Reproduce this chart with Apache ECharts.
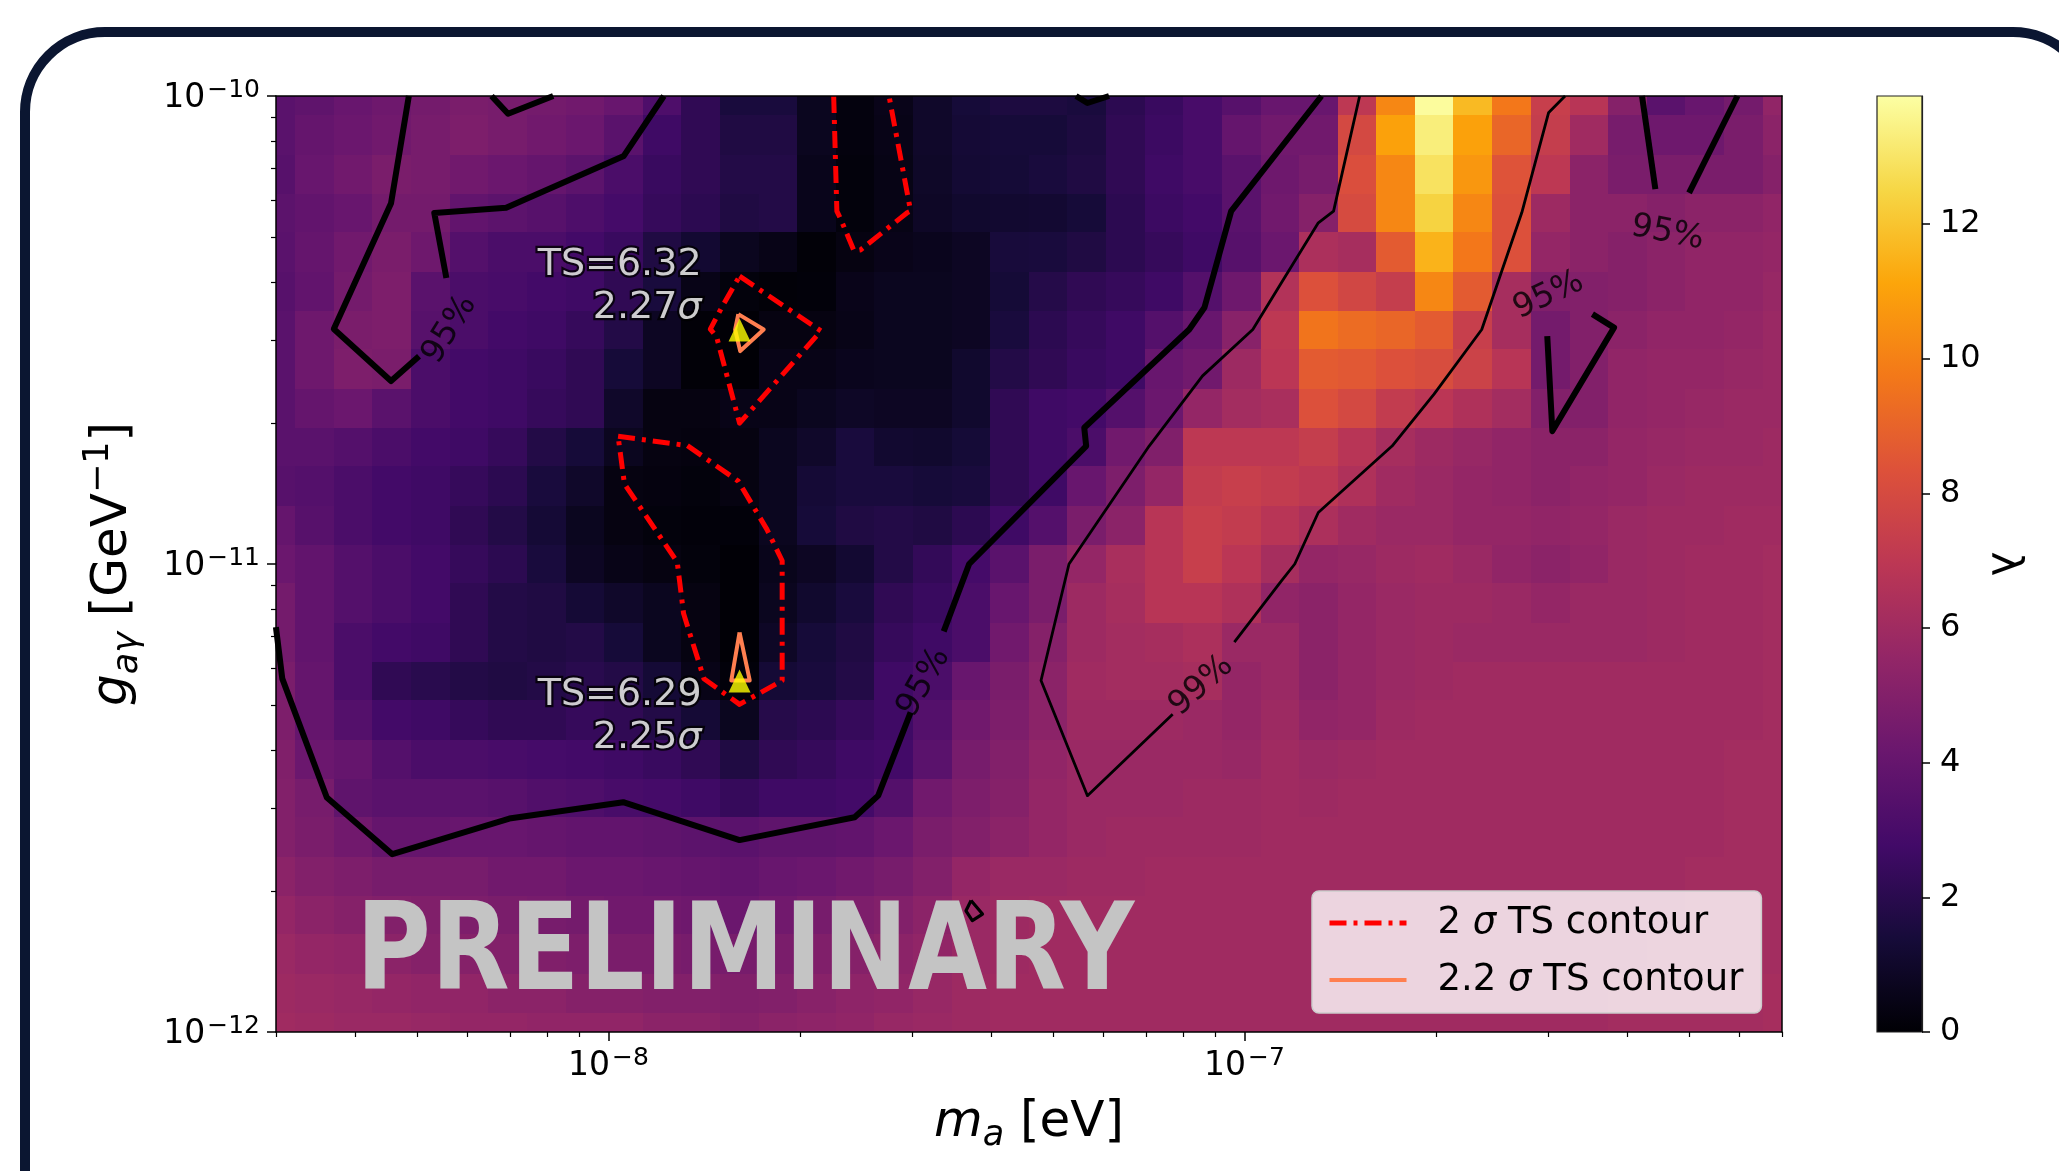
<!DOCTYPE html>
<html>
<head>
<meta charset="utf-8">
<script src="https://cdn.jsdelivr.net/npm/echarts@6.0.0/dist/echarts.min.js"></script>
<style>
  html, body { margin: 0; padding: 0; background: #fff; }
  #chart { width: 2059px; height: 1171px; }
</style>
</head>
<body>
<div id="chart"></div>
<script>
const FONT = "DejaVu Sans";

// scan grid, log10(m_a / eV) and log10(g / GeV^-1)
const logMass = [-8.523, -8.462, -8.402, -8.341, -8.280, -8.219, -8.159, -8.098, -8.037, -7.977,
  -7.916, -7.855, -7.794, -7.734, -7.673, -7.612, -7.552, -7.491, -7.430, -7.369,
  -7.309, -7.248, -7.187, -7.127, -7.066, -7.005, -6.944, -6.884, -6.823, -6.762,
  -6.702, -6.641, -6.580, -6.519, -6.459, -6.398, -6.337, -6.277, -6.216, -6.155];
const logCoupling = [-10.000, -10.083, -10.167, -10.250, -10.333, -10.417, -10.500, -10.583, -10.667,
  -10.750, -10.833, -10.917, -11.000, -11.083, -11.167, -11.250, -11.333, -11.417, -11.500,
  -11.583, -11.667, -11.750, -11.833, -11.917, -12.000];

// lambda, one row per coupling (top row = 1e-10)
const lambdaRows = [
  [3.6,3.8,4.1,4.3,4.5,4.7,4.6,4.5,4.4,4.1,3.2,2.2,1.5,1.5, 0.7,0.25,0.55,1.0,1.4,1.6,1.6,1.5,2.1,2.5,3.0,3.5,4.1, 4.1,7.0,10.2,13.8,11.7,9.7,7.4,6.8,5.1,3.6,4.1,4.5,5.5],
  [3.6,4.0,4.2,4.4,4.6,4.8,4.6,4.4,4.2,3.6,2.7,2.2,1.7,1.7, 0.7,0.25,0.5,1.0,1.3,1.4,1.4,1.6,2.2,2.6,3.0,4.0,4.4, 4.4,7.9,11.0,13.3,11.0,9.1,7.3,6.0,4.6,4.3,4.3,4.7,5.3],
  [3.5,4.1,4.4,4.7,4.6,4.4,4.2,4.0,3.7,3.1,2.5,2.2,1.8,1.8, 0.6,0.2,0.45,0.95,1.25,1.35,1.5,1.7,2.2,2.7,3.0,3.6,4.3, 4.6,8.2,10.2,12.9,10.7,8.4,7.0,5.3,4.7,4.7,4.7,4.7,5.1],
  [3.7,3.9,4.1,4.5,4.5,3.9,3.7,3.5,3.2,2.9,2.4,2.1,1.7,1.8, 0.6,0.2,0.45,0.9,1.1,1.15,1.2,1.4,2.1,2.6,2.8,3.6,4.4, 5.1,8.0,10.2,12.4,10.2,8.3,5.9,5.3,5.3,5.1,5.3,5.3,5.5],
  [3.6,4.0,4.4,4.7,4.3,3.4,3.1,3.1,2.8,2.5,1.7,1.2,0.7,0.5, 0.1,0.35,0.55,0.65,0.8,1.45,1.5,1.7,2.1,2.4,2.7,3.5,4.2, 6.4,6.2,8.7,11.5,9.7,8.3,5.6,5.3,5.1,5.3,5.5,5.5,5.6],
  [3.5,3.9,4.5,4.8,3.6,3.1,3.0,2.8,2.7,2.2,1.5,0.5,0.2,0.1, 0.15,0.55,0.7,0.7,0.8,1.35,1.85,2.2,2.4,2.7,3.4,4.3,6.6, 8.3,7.8,7.3,10.2,8.7,6.2,4.9,5.0,5.1,5.3,5.5,5.5,5.7],
  [3.6,4.3,4.7,4.8,3.5,3.1,2.8,2.7,2.4,1.8,0.8,0.1,0.05,0.35, 0.35,0.5,0.7,0.7,0.8,1.5,2.1,2.4,2.7,3.4,4.1,5.2,7.0, 9.6,9.3,9.1,8.7,7.4,6.2,4.5,5.0,5.3,5.5,5.5,5.6,5.8],
  [3.6,4.3,4.8,4.7,3.1,2.8,2.7,2.5,2.2,1.4,0.8,0.1,0.05,0.5, 0.5,0.65,0.7,0.7,1.1,1.8,2.2,2.5,2.7,4.1,4.4,5.9,6.9, 8.7,8.6,8.3,8.1,7.6,6.8,4.5,5.0,5.5,5.6,5.6,5.7,5.8],
  [3.6,4.0,4.2,3.6,3.1,2.8,2.7,2.4,2.2,1.0,0.35,0.35,0.5,0.5, 0.7,0.9,0.8,0.8,1.1,2.2,2.7,2.8,3.4,4.2,5.6,6.1,6.3, 8.3,7.9,7.2,6.9,6.5,6.1,5.0,5.0,5.5,5.6,5.7,5.8,5.8],
  [3.6,3.6,3.4,3.1,2.8,2.7,2.4,1.8,1.4,0.7,0.35,0.3,0.35,0.7, 1.0,1.5,1.15,1.1,1.35,2.2,2.7,3.1,4.4,4.9,7.0,7.0,7.0, 7.3,6.8,6.2,5.9,5.7,5.5,5.3,5.3,5.6,5.7,5.8,5.8,5.9],
  [3.5,3.4,3.1,2.8,2.7,2.4,2.1,1.5,1.0,0.35,0.3,0.2,0.35,0.7, 1.3,1.5,1.5,1.4,1.5,2.2,2.7,4.1,4.8,5.6,7.2,7.4,7.2, 7.0,6.5,6.0,5.8,5.6,5.5,5.3,5.5,5.6,5.8,5.9,5.9,5.9],
  [4.0,3.5,3.1,2.8,2.7,2.2,1.8,1.3,0.7,0.35,0.2,0.15,0.15,0.7, 1.4,1.7,1.8,1.7,2.1,2.7,3.4,4.7,5.3,6.8,7.4,7.2,6.8, 6.4,6.0,5.8,5.8,5.6,5.6,5.5,5.6,5.8,5.9,5.9,6.0,6.0],
  [4.2,3.9,3.4,3.1,2.8,2.4,2.1,1.5,0.8,0.5,0.35,0.2,0.05,0.6, 0.8,1.2,1.8,2.3,2.9,3.6,4.7,5.6,6.3,6.8,7.4,6.9,6.2, 5.6,5.7,5.9,6.0,5.8,5.5,5.3,5.5,5.8,5.9,6.0,6.0,6.1],
  [4.5,3.9,3.4,3.1,2.8,2.2,1.8,1.7,1.3,1.0,0.7,0.35,0.05,0.7, 1.1,1.5,2.2,2.5,3.1,4.1,4.7,5.9,6.2,6.8,6.8,6.5,5.5, 5.3,5.6,5.8,5.9,5.9,5.8,5.6,5.8,5.8,5.9,6.0,6.0,6.1],
  [4.5,3.9,3.1,2.8,2.7,2.2,1.8,1.7,1.8,1.4,0.7,0.35,0.05,0.9, 1.4,1.7,2.4,2.7,3.1,4.4,5.1,5.9,6.1,6.2,6.4,5.8,5.8, 5.3,5.6,5.8,5.9,5.8,5.8,5.8,5.8,5.8,5.9,6.0,6.0,6.1],
  [4.7,4.0,3.1,2.2,2.0,1.8,1.7,1.8,2.0,1.8,1.3,0.5,0.15,1.3, 1.5,1.8,2.7,3.1,4.1,4.7,5.3,6.0,6.1,6.1,6.2,5.6,5.8, 5.3,5.6,5.8,5.9,6.0,6.0,6.0,6.0,6.0,6.0,6.0,6.0,6.1],
  [4.8,4.0,3.4,2.8,2.7,2.4,2.2,2.2,2.4,2.2,1.8,1.3,0.7,1.9, 2.1,2.4,2.7,3.4,4.4,4.8,5.3,5.9,5.9,5.9,5.8,5.6,5.9, 5.5,5.6,5.9,6.0,6.0,6.0,6.0,6.0,6.0,6.0,6.0,6.0,6.1],
  [4.9,4.2,4.0,3.4,3.1,3.1,3.0,2.9,2.8,2.7,2.5,2.2,1.7,2.2, 2.4,2.7,2.8,3.6,4.6,5.0,5.5,5.8,5.8,5.8,5.8,5.7,6.0, 5.8,5.9,6.0,6.0,6.0,6.0,6.0,6.0,6.0,6.0,6.0,6.1,6.1],
  [5.0,4.6,3.8,3.6,3.6,3.6,3.5,3.3,3.2,3.0,2.9,2.7,2.4,2.7, 2.7,2.8,3.4,4.4,4.8,5.1,5.6,5.8,5.8,5.8,5.9,5.9,6.0, 5.9,6.0,6.0,6.0,6.0,6.0,6.0,6.0,6.0,6.0,6.0,6.1,6.1],
  [5.0,4.7,4.4,4.0,4.0,4.1,4.1,4.0,3.9,3.9,3.8,3.7,3.6,3.8, 3.8,3.9,4.2,4.7,5.0,5.3,5.6,5.8,5.9,5.9,5.9,5.9,6.0, 6.0,6.0,6.0,6.0,6.0,6.0,6.0,6.0,6.0,6.0,6.0,6.1,6.1],
  [5.3,5.0,4.8,4.6,4.6,4.6,4.4,4.4,4.2,4.2,4.1,4.0,3.9,4.1, 4.2,4.4,4.6,5.0,5.6,5.8,5.8,5.9,5.9,6.0,6.0,6.0,6.0, 6.0,6.0,6.0,6.0,6.0,6.0,6.0,6.0,6.0,6.0,6.1,6.1,6.1],
  [5.6,5.3,5.1,5.0,4.9,4.8,4.7,4.6,4.5,4.4,4.4,4.3,4.2,4.4, 4.6,4.8,5.0,5.3,5.8,5.9,6.0,6.0,6.0,6.0,6.0,6.0,6.0, 6.0,6.0,6.0,6.0,6.0,6.0,6.0,6.0,6.0,6.0,6.1,6.1,6.1],
  [5.8,5.6,5.5,5.3,5.1,5.1,5.0,4.9,4.8,4.7,4.7,4.6,4.6,4.7, 4.9,5.1,5.3,5.5,5.8,5.9,6.0,6.0,6.0,6.0,6.0,6.0,6.0, 6.0,6.0,6.0,6.0,6.0,6.0,6.0,6.0,6.0,6.1,6.1,6.1,6.1],
  [5.9,5.8,5.7,5.6,5.5,5.5,5.3,5.3,5.1,5.1,5.0,5.0,4.9,5.0, 5.2,5.4,5.5,5.7,5.9,6.0,6.0,6.0,6.0,6.0,6.0,6.0,6.0, 6.0,6.0,6.0,6.0,6.0,6.0,6.0,6.0,6.1,6.1,6.1,6.1,6.2],
  [6.0,5.9,5.8,5.8,5.7,5.6,5.6,5.5,5.5,5.5,5.3,5.3,5.1,5.3, 5.4,5.5,5.7,5.8,5.9,6.0,6.0,6.0,6.0,6.0,6.0,6.0,6.0, 6.0,6.0,6.0,6.0,6.0,6.0,6.0,6.0,6.1,6.1,6.1,6.1,6.2],
];
const lambdaMax = 13.9;

// contour paths, [log10 m, log10 g]
const cl95MainA = [[-8.523,-11.135],[-8.513,-11.245],[-8.443,-11.499],[-8.340,-11.620],[-8.156,-11.544],[-7.977,-11.509],[-7.794,-11.590],[-7.613,-11.541],[-7.576,-11.495],[-7.525,-11.317]];
const cl95MainB = [[-7.473,-11.144],[-7.433,-11.000],[-7.249,-10.748],[-7.252,-10.709],[-7.087,-10.499],[-7.063,-10.452],[-7.021,-10.246],[-6.942,-10.109],[-6.879,-10.000]];
const cl95LeftA = [[-8.314,-10.000],[-8.342,-10.229],[-8.432,-10.498],[-8.342,-10.609],[-8.298,-10.556]];
const cl95LeftB = [[-8.255,-10.389],[-8.274,-10.250],[-8.161,-10.239],[-7.976,-10.128],[-7.913,-10.000]];
const cl95LeftLoop = [[-8.184,-10.000],[-8.158,-10.038],[-8.087,-10.000]];
const cl95TopLoop = [[-7.265,-10.000],[-7.247,-10.015],[-7.213,-10.000]];
const cl95RightA = [[-6.375,-10.000],[-6.354,-10.199]];
const cl95RightB = [[-6.301,-10.207],[-6.225,-10.000]];
const cl95Vee = [[-6.453,-10.466],[-6.419,-10.495],[-6.516,-10.716],[-6.524,-10.513]];
const cl99A = [[-6.819,-10.000],[-6.860,-10.246],[-6.884,-10.271],[-6.942,-10.399],[-6.987,-10.499],[-7.066,-10.598],[-7.150,-10.748],[-7.276,-11.000],[-7.320,-11.249],[-7.247,-11.495],[-7.113,-11.321]];
const cl99B = [[-7.016,-11.167],[-6.942,-11.036],[-6.921,-11.000],[-6.884,-10.890],[-6.768,-10.748],[-6.702,-10.637],[-6.627,-10.499],[-6.564,-10.249],[-6.522,-10.036],[-6.496,-10.000]];
const clDiamond = [[-7.430,-11.719],[-7.412,-11.748],[-7.428,-11.762],[-7.438,-11.741],[-7.430,-11.719]];

const ts2Upper = [[-7.646,-10.000],[-7.641,-10.246],[-7.635,-10.263],[-7.614,-10.331],[-7.604,-10.329],[-7.530,-10.249],[-7.525,-10.246],[-7.559,-10.000]];
const ts2Peak = [[-7.794,-10.385],[-7.666,-10.502],[-7.794,-10.699],[-7.830,-10.515],[-7.840,-10.498],[-7.821,-10.449],[-7.794,-10.385]];
const ts2Lower = [[-7.985,-10.727],[-7.876,-10.747],[-7.796,-10.823],[-7.751,-10.926],[-7.727,-10.993],[-7.727,-11.249],[-7.794,-11.300],[-7.850,-11.245],[-7.882,-11.106],[-7.892,-10.996],[-7.975,-10.829],[-7.985,-10.727]];
const ts22Upper = [[-7.796,-10.466],[-7.756,-10.499],[-7.793,-10.545],[-7.801,-10.499],[-7.796,-10.466]];
const ts22Lower = [[-7.794,-11.146],[-7.778,-11.249],[-7.807,-11.249],[-7.794,-11.146]];

const bestFits = [[-7.794, -10.500], [-7.794, -11.250]];
const bestTS = ["6.32", "6.29"];
const bestSigma = ["2.27", "2.25"];

const contourLabels = [
  { text: "95%", pos: [-8.250, -10.499], angle: 58 },
  { text: "95%", pos: [-7.504, -11.253], angle: 60 },
  { text: "99%", pos: [-7.068, -11.260], angle: 42 },
  { text: "95%", pos: [-6.335, -10.293], angle: -11 },
  { text: "95%", pos: [-6.522, -10.426], angle: 25 },
];

const massTicks = [-8, -7];
const couplingTicks = [-12, -11, -10];
const colorTicks = [0, 2, 4, 6, 8, 10, 12];

const inferno = ["#000004", "#160b39", "#420a68", "#6a176e", "#932667", "#bc3754",
  "#dd513a", "#f37819", "#fca50a", "#f6d746", "#fcffa4"];

const massMin = Math.log10(3e-9), massMax = Math.log10(7e-7);
const minorMass = [], minorCoupling = [];
[-9, -8, -7].forEach(e => { for (let k = 2; k <= 9; k++) minorMass.push(Math.log10(k) + e); });
[-12, -11].forEach(e => { for (let k = 2; k <= 9; k++) minorCoupling.push(Math.log10(k) + e); });

const heatData = [];
lambdaRows.forEach((row, j) => row.forEach((v, i) => heatData.push([logMass[i], logCoupling[j], v, i, j])));

function powLabel(v) {
  return "{b|10}{s|\u2212" + Math.abs(Math.round(v)) + "}";
}
const tickRich = {
  b: { fontSize: 33, lineHeight: 37, verticalAlign: "bottom", fontFamily: FONT, color: "#000" },
  s: { fontSize: 25, lineHeight: 24, verticalAlign: "top", fontFamily: FONT, color: "#000", padding: [0, 0, 0, 2] },
};

function contour(data, width) {
  return {
    type: "line", data: data, symbol: "none", silent: true, z: 3,
    lineStyle: { color: "#000", width: width, cap: "butt", join: "round" },
  };
}
function tsLine(name, data, color, width, dash) {
  return {
    type: "line", name: name, data: data, symbol: "none", silent: true, z: 4,
    itemStyle: { color: color },
    lineStyle: { color: color, width: width, type: dash, cap: "butt", join: "round" },
  };
}

const axisLineStyle = { color: "#000", width: 1.5 };

const option = {
  animation: false,
  textStyle: { fontFamily: FONT },
  grid: [
    { left: 276, top: 96, width: 1506, height: 936 },
    { left: 1877, top: 96, width: 45, height: 936 },
  ],
  visualMap: {
    type: "continuous", show: false, min: 0, max: lambdaMax, dimension: 2, seriesIndex: 0,
    inRange: { color: inferno },
  },
  xAxis: [
    {
      type: "value", gridIndex: 0, min: massMin, max: massMax, position: "bottom", z: 10,
      axisLine: { show: true, onZero: false, lineStyle: axisLineStyle },
      axisTick: { show: true, customValues: massTicks, length: 9, lineStyle: axisLineStyle },
      axisLabel: { show: true, customValues: massTicks, formatter: powLabel, rich: tickRich, margin: 14 },
      splitLine: { show: false },
      name: "{i|m}{sub|a} [eV]", nameLocation: "middle", nameGap: 61, nameMoveOverlap: false,
      nameTextStyle: {
        fontSize: 50, color: "#000", lineHeight: 60, fontFamily: FONT,
        rich: {
          i: { fontSize: 50, fontStyle: "italic", lineHeight: 60, fontFamily: FONT },
          sub: { fontSize: 35, fontStyle: "italic", lineHeight: 40, verticalAlign: "bottom", fontFamily: FONT },
        },
      },
    },
    {
      type: "value", gridIndex: 0, min: massMin, max: massMax, position: "bottom", z: 10,
      axisLine: { show: false },
      axisTick: { show: true, customValues: minorMass, length: 5, lineStyle: { color: "#000", width: 1.2 } },
      axisLabel: { show: false }, splitLine: { show: false },
    },
    {
      type: "value", gridIndex: 0, min: massMin, max: massMax, position: "top", z: 10,
      axisLine: { show: true, onZero: false, lineStyle: axisLineStyle },
      axisTick: { show: false }, axisLabel: { show: false }, splitLine: { show: false },
    },
    { type: "value", gridIndex: 1, min: 0, max: 1, show: false, splitLine: { show: false } },
  ],
  yAxis: [
    {
      type: "value", gridIndex: 0, min: -12, max: -10, position: "left", z: 10,
      axisLine: { show: true, onZero: false, lineStyle: axisLineStyle },
      axisTick: { show: true, customValues: couplingTicks, length: 9, lineStyle: axisLineStyle },
      axisLabel: { show: true, customValues: couplingTicks, formatter: powLabel, rich: tickRich, margin: 16 },
      splitLine: { show: false },
      name: "{i|g}{sub|a\u03b3} [GeV{sup|\u22121}]", nameLocation: "middle", nameGap: 131, nameRotate: 90,
      nameMoveOverlap: false,
      nameTextStyle: {
        fontSize: 50, color: "#000", lineHeight: 64, fontFamily: FONT,
        rich: {
          i: { fontSize: 50, fontStyle: "italic", lineHeight: 64, fontFamily: FONT },
          sub: { fontSize: 35, fontStyle: "italic", lineHeight: 42, verticalAlign: "bottom", fontFamily: FONT },
          sup: { fontSize: 35, lineHeight: 32, verticalAlign: "top", fontFamily: FONT },
        },
      },
    },
    {
      type: "value", gridIndex: 0, min: -12, max: -10, position: "left", z: 10,
      axisLine: { show: false },
      axisTick: { show: true, customValues: minorCoupling, length: 5, lineStyle: { color: "#000", width: 1.2 } },
      axisLabel: { show: false }, splitLine: { show: false },
    },
    {
      type: "value", gridIndex: 0, min: -12, max: -10, position: "right", z: 10,
      axisLine: { show: true, onZero: false, lineStyle: axisLineStyle },
      axisTick: { show: false }, axisLabel: { show: false }, splitLine: { show: false },
    },
    {
      type: "value", gridIndex: 1, min: 0, max: lambdaMax, position: "right", z: 10,
      axisLine: { show: true, onZero: false, lineStyle: { color: "#222", width: 1.2 } },
      axisTick: { show: true, customValues: colorTicks, length: 8, lineStyle: axisLineStyle },
      axisLabel: {
        show: true, customValues: colorTicks, fontSize: 32, color: "#000", margin: 18, fontFamily: FONT,
        padding: [12, 0, 0, 0],
      },
      splitLine: { show: false },
      name: "\u03bb", nameLocation: "middle", nameGap: 60, nameRotate: -90, nameMoveOverlap: false,
      nameTextStyle: { fontSize: 42, color: "#000", fontFamily: FONT },
    },
  ],
  legend: {
    data: ["2 \u03c3 TS contour", "2.2 \u03c3 TS contour"],
    orient: "vertical", left: 1312, top: 891,
    itemWidth: 77, itemHeight: 14, itemGap: 13,
    padding: [10, 18, 11, 15],
    backgroundColor: "rgba(255,255,255,0.8)", borderColor: "#cccccc", borderWidth: 1.5, borderRadius: 7,
    selectedMode: false,
    itemStyle: { opacity: 0 },
    lineStyle: { width: "inherit" },
    formatter: name => name.replace("\u03c3", "{i|\u03c3}"),
    textStyle: {
      fontSize: 37, lineHeight: 44, color: "#000", fontFamily: FONT, padding: [0, 0, 0, 26],
      rich: { i: { fontSize: 37, lineHeight: 44, fontStyle: "italic", fontFamily: FONT, color: "#000" } },
    },
  },
  graphic: [
    {
      type: "rect", silent: true, z: 0,
      shape: { x: 25, y: 32, width: 2068, height: 1300, r: 80 },
      style: { fill: "none", stroke: "#0b1631", lineWidth: 10 },
    },
    {
      type: "text", silent: true, z: 2, x: 356, y: 958, scaleX: 0.845,
      style: { text: "PRELIMINARY", font: 'bold 121px "DejaVu Sans"', fill: "#c4c4c4", verticalAlign: "middle" },
    },
  ],
  series: [
    {
      type: "custom", xAxisIndex: 0, yAxisIndex: 0, z: 1, silent: true,
      data: heatData,
      renderItem: function (params, api) {
        const i = api.value(3), j = api.value(4);
        const xl = i > 0 ? (logMass[i - 1] + logMass[i]) / 2 : logMass[i];
        const xr = i < logMass.length - 1 ? (logMass[i] + logMass[i + 1]) / 2 : logMass[i];
        const yt = j > 0 ? (logCoupling[j - 1] + logCoupling[j]) / 2 : logCoupling[j];
        const yb = j < logCoupling.length - 1 ? (logCoupling[j] + logCoupling[j + 1]) / 2 : logCoupling[j];
        const p0 = api.coord([xl, yt]);
        const p1 = api.coord([xr, yb]);
        const x0 = Math.round(p0[0]), x1 = Math.round(p1[0]);
        const y0 = Math.round(p0[1]), y1 = Math.round(p1[1]);
        return {
          type: "rect",
          shape: { x: x0, y: y0, width: x1 - x0, height: y1 - y0 },
          style: { fill: api.visual("color") },
        };
      },
    },
    {
      type: "custom", xAxisIndex: 3, yAxisIndex: 3, z: 1, silent: true,
      data: [[1, lambdaMax]],
      renderItem: function (params, api) {
        const p0 = api.coord([0, api.value(1)]);
        const p1 = api.coord([api.value(0), 0]);
        const stops = inferno.map((c, k) => ({ offset: k / (inferno.length - 1), color: c }));
        return {
          type: "rect",
          shape: { x: p0[0], y: p0[1], width: p1[0] - p0[0], height: p1[1] - p0[1] },
          style: { fill: new echarts.graphic.LinearGradient(0, 1, 0, 0, stops), stroke: "#222", lineWidth: 1.2 },
        };
      },
    },
    contour(cl95MainA, 6),
    contour(cl95MainB, 6),
    contour(cl95LeftA, 6),
    contour(cl95LeftB, 6),
    contour(cl95LeftLoop, 6),
    contour(cl95TopLoop, 6),
    contour(cl95RightA, 6),
    contour(cl95RightB, 6),
    contour(cl95Vee, 6),
    contour(cl99A, 2.8),
    contour(cl99B, 2.8),
    contour(clDiamond, 3.2),
    tsLine("2 \u03c3 TS contour", ts2Upper, "#ff0000", 5, [17, 7, 4, 7]),
    tsLine("2 \u03c3 TS contour", ts2Peak, "#ff0000", 5, [17, 7, 4, 7]),
    tsLine("2 \u03c3 TS contour", ts2Lower, "#ff0000", 5, [17, 7, 4, 7]),
    tsLine("2.2 \u03c3 TS contour", ts22Upper, "#ff7f50", 4, "solid"),
    tsLine("2.2 \u03c3 TS contour", ts22Lower, "#ff7f50", 4, "solid"),
    {
      type: "scatter", silent: true, z: 5,
      symbolSize: 1, itemStyle: { color: "rgba(0,0,0,0)" },
      data: contourLabels.map(l => ({ value: l.pos, label: { formatter: l.text, rotate: l.angle } })),
      label: { show: true, position: "inside", fontSize: 33, color: "#000", fontFamily: FONT },
    },
    {
      type: "scatter", silent: true, z: 6,
      symbol: "triangle", symbolSize: [22, 23], itemStyle: { color: "#ffff00" },
      data: bestFits.map((p, k) => ({
        value: p,
        label: {
          show: true, position: "left", distance: 27, offset: [0, k === 0 ? -43 : 36], align: "right",
          formatter: "TS=" + bestTS[k] + "\n" + bestSigma[k] + "{s|\u03c3}",
        },
      })),
      label: {
        fontSize: 38, lineHeight: 43, color: "#fff", fontFamily: FONT,
        textBorderColor: "#000", textBorderWidth: 4.5,
        rich: { s: { fontSize: 38, lineHeight: 43, fontStyle: "italic", color: "#fff", textBorderColor: "#000", textBorderWidth: 4.5, fontFamily: FONT } },
      },
    },
  ],
};

const chart = echarts.init(document.getElementById("chart"), null, { renderer: "canvas" });
chart.setOption(option);
</script>
</body>
</html>
